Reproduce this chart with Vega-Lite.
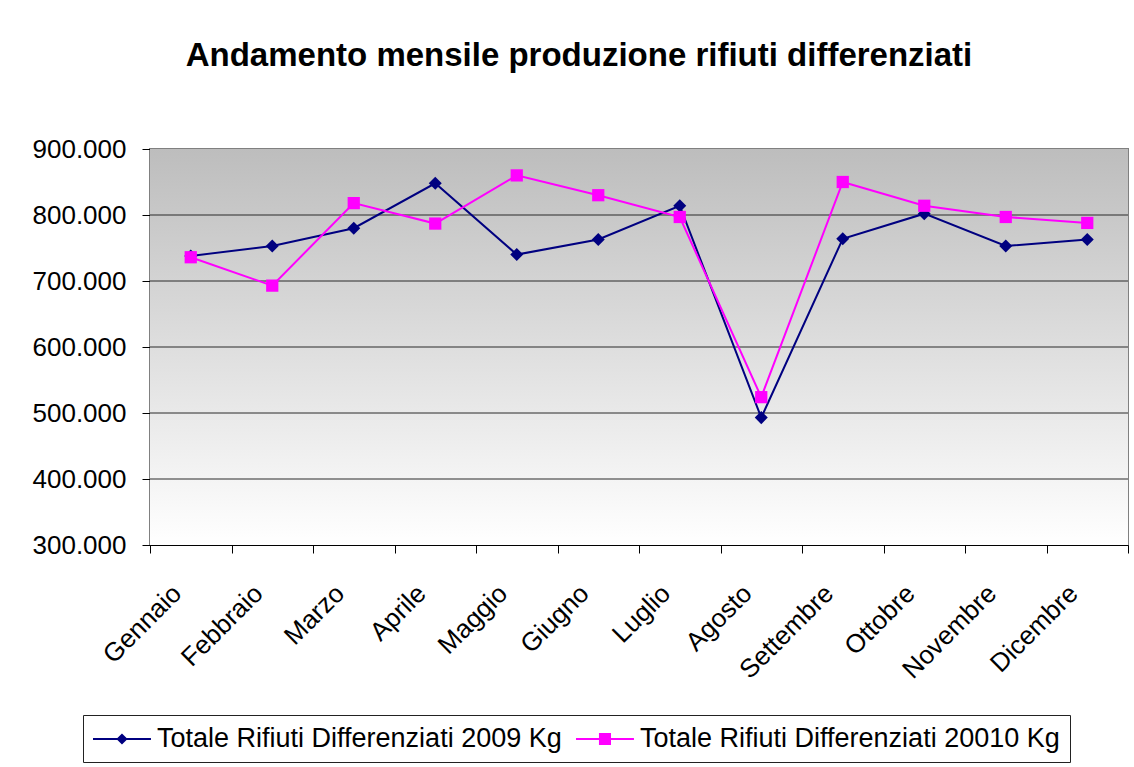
{
  "$schema": "https://vega.github.io/schema/vega-lite/v6.json",
  "width": 978,
  "height": 396,
  "autosize": "none",
  "padding": {"left": 150, "top": 149, "right": 6, "bottom": 222},
  "background": "white",
  "title": {
    "text": "Andamento mensile produzione rifiuti differenziati",
    "font": "Liberation Sans",
    "fontSize": 33,
    "fontWeight": "bold",
    "color": "black",
    "anchor": "middle",
    "frame": "group",
    "dx": -60,
    "offset": 37,
    "baseline": "alphabetic"
  },
  "config": {
    "view": {"stroke": "#808080", "strokeWidth": 2},
    "font": "Liberation Sans"
  },
  "datasets": {
    "main": [
      {"mese": "Gennaio", "serie": "Totale Rifiuti Differenziati 2009 Kg", "valore": 738000},
      {"mese": "Febbraio", "serie": "Totale Rifiuti Differenziati 2009 Kg", "valore": 753000},
      {"mese": "Marzo", "serie": "Totale Rifiuti Differenziati 2009 Kg", "valore": 780000},
      {"mese": "Aprile", "serie": "Totale Rifiuti Differenziati 2009 Kg", "valore": 848000},
      {"mese": "Maggio", "serie": "Totale Rifiuti Differenziati 2009 Kg", "valore": 740000},
      {"mese": "Giugno", "serie": "Totale Rifiuti Differenziati 2009 Kg", "valore": 763000},
      {"mese": "Luglio", "serie": "Totale Rifiuti Differenziati 2009 Kg", "valore": 814000},
      {"mese": "Agosto", "serie": "Totale Rifiuti Differenziati 2009 Kg", "valore": 493000},
      {"mese": "Settembre", "serie": "Totale Rifiuti Differenziati 2009 Kg", "valore": 764000},
      {"mese": "Ottobre", "serie": "Totale Rifiuti Differenziati 2009 Kg", "valore": 802000},
      {"mese": "Novembre", "serie": "Totale Rifiuti Differenziati 2009 Kg", "valore": 753000},
      {"mese": "Dicembre", "serie": "Totale Rifiuti Differenziati 2009 Kg", "valore": 763000},
      {"mese": "Gennaio", "serie": "Totale Rifiuti Differenziati 20010 Kg", "valore": 736000},
      {"mese": "Febbraio", "serie": "Totale Rifiuti Differenziati 20010 Kg", "valore": 693000},
      {"mese": "Marzo", "serie": "Totale Rifiuti Differenziati 20010 Kg", "valore": 818000},
      {"mese": "Aprile", "serie": "Totale Rifiuti Differenziati 20010 Kg", "valore": 787000},
      {"mese": "Maggio", "serie": "Totale Rifiuti Differenziati 20010 Kg", "valore": 860000},
      {"mese": "Giugno", "serie": "Totale Rifiuti Differenziati 20010 Kg", "valore": 830000},
      {"mese": "Luglio", "serie": "Totale Rifiuti Differenziati 20010 Kg", "valore": 797000},
      {"mese": "Agosto", "serie": "Totale Rifiuti Differenziati 20010 Kg", "valore": 524000},
      {"mese": "Settembre", "serie": "Totale Rifiuti Differenziati 20010 Kg", "valore": 850000},
      {"mese": "Ottobre", "serie": "Totale Rifiuti Differenziati 20010 Kg", "valore": 814000},
      {"mese": "Novembre", "serie": "Totale Rifiuti Differenziati 20010 Kg", "valore": 797000},
      {"mese": "Dicembre", "serie": "Totale Rifiuti Differenziati 20010 Kg", "valore": 788000}
    ]
  },
  "data": {"name": "main"},
  "encoding": {
    "x": {
      "field": "mese",
      "type": "nominal",
      "sort": ["Gennaio", "Febbraio", "Marzo", "Aprile", "Maggio", "Giugno", "Luglio", "Agosto", "Settembre", "Ottobre", "Novembre", "Dicembre"],
      "scale": {"type": "band", "paddingInner": 0, "paddingOuter": 0},
      "axis": {
        "title": null,
        "labelAngle": -45,
        "labelAlign": "right",
        "labelBaseline": "middle",
        "labelFontSize": 26,
        "labelFont": "Liberation Sans",
        "labelColor": "black",
        "labelPadding": 36,
        "labelOffset": -14,
        "tickBand": "extent",
        "tickSize": 8,
        "tickColor": "black",
        "domainColor": "black",
        "grid": false
      }
    },
    "y": {
      "field": "valore",
      "type": "quantitative",
      "scale": {"domain": [300000, 900000], "nice": false, "zero": false},
      "axis": {
        "title": null,
        "values": [300000, 400000, 500000, 600000, 700000, 800000, 900000],
        "labelExpr": "replace(format(datum.value, ','), ',', '.')",
        "labelFontSize": 26,
        "labelFont": "Liberation Sans",
        "labelColor": "black",
        "labelPadding": 16,
        "tickSize": 8,
        "tickColor": "black",
        "domainColor": "black",
        "grid": false
      }
    }
  },
  "layer": [
    {
      "data": {"values": [{"lo": 300000, "hi": 900000}]},
      "mark": {
        "type": "rect",
        "fill": {
          "gradient": "linear", "x1": 0, "y1": 0, "x2": 0, "y2": 1,
          "stops": [{"offset": 0, "color": "#bdbdbd"}, {"offset": 1, "color": "#ffffff"}]
        }
      },
      "encoding": {
        "x": null,
        "y": {"field": "hi", "type": "quantitative"},
        "y2": {"field": "lo"}
      }
    },
    {
      "data": {"values": [{"v": 400000}, {"v": 500000}, {"v": 600000}, {"v": 700000}, {"v": 800000}]},
      "mark": {"type": "rule", "color": "#2a2a2a", "strokeWidth": 1},
      "encoding": {
        "x": null,
        "y": {"field": "v", "type": "quantitative"}
      }
    },
    {
      "transform": [{"filter": "datum.serie == 'Totale Rifiuti Differenziati 2009 Kg'"}],
      "mark": {"type": "line", "color": "#000080", "strokeWidth": 2}
    },
    {
      "transform": [{"filter": "datum.serie == 'Totale Rifiuti Differenziati 20010 Kg'"}],
      "mark": {"type": "line", "color": "#ff00ff", "strokeWidth": 2}
    },
    {
      "transform": [{"filter": "datum.serie == 'Totale Rifiuti Differenziati 2009 Kg'"}],
      "mark": {"type": "point", "shape": "diamond", "filled": true, "size": 170, "color": "#000080", "opacity": 1}
    },
    {
      "transform": [{"filter": "datum.serie == 'Totale Rifiuti Differenziati 20010 Kg'"}],
      "mark": {"type": "point", "shape": "square", "filled": true, "size": 150, "color": "#ff00ff", "opacity": 1}
    },
    {
      "transform": [{"filter": "false"}],
      "mark": {"type": "point", "filled": true, "opacity": 1, "strokeWidth": 0},
      "encoding": {
        "color": {
          "field": "serie",
          "type": "nominal",
          "scale": {
            "domain": ["Totale Rifiuti Differenziati 2009 Kg", "Totale Rifiuti Differenziati 20010 Kg"],
            "range": ["#000080", "#ff00ff"]
          },
          "legend": {
            "title": null,
            "orient": "none",
            "legendX": -67,
            "legendY": 566,
            "direction": "horizontal",
            "symbolSize": 784,
            "symbolOpacity": 1,
            "symbolStrokeWidth": 0,
            "labelFontSize": 27,
            "labelFont": "Liberation Sans",
            "labelColor": "black",
            "labelLimit": 0,
            "labelOffset": 36,
            "columnPadding": 14,
            "padding": 10,
            "strokeColor": "#222222",
            "fillColor": "white"
          }
        },
        "shape": {
          "field": "serie",
          "type": "nominal",
          "scale": {
            "domain": ["Totale Rifiuti Differenziati 2009 Kg", "Totale Rifiuti Differenziati 20010 Kg"],
            "range": [
              "M-1,-0.075H3.14V0.075H-1Z M1.07,-0.4L1.47,0L1.07,0.4L0.67,0Z",
              "M-1,-0.075H3.14V0.075H-1Z M0.64,-0.43H1.5V0.43H0.64Z"
            ]
          }
        }
      }
    }
  ]
}
